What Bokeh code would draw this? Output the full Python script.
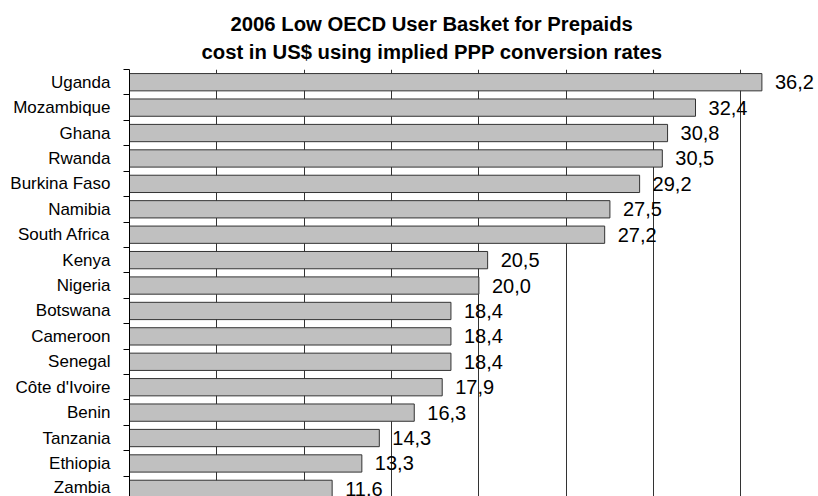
from bokeh.plotting import figure
from bokeh.models import Range1d, FixedTicker, Title, ColumnDataSource
from bokeh.embed import file_html
from bokeh.resources import INLINE

countries = ["Uganda", "Mozambique", "Ghana", "Rwanda", "Burkina Faso", "Namibia",
             "South Africa", "Kenya", "Nigeria", "Botswana", "Cameroon", "Senegal",
             "Côte d'Ivoire", "Benin", "Tanzania", "Ethiopia", "Zambia"]
values = [36.2, 32.4, 30.8, 30.5, 29.2, 27.5, 27.2, 20.5, 20.0, 18.4, 18.4, 18.4,
          17.9, 16.3, 14.3, 13.3, 11.6]
grid_ticks = [5, 10, 15, 20, 25, 30, 35]
title_line1 = "2006 Low OECD User Basket for Prepaids"
title_line2 = "cost in US$ using implied PPP conversion rates"

idx = list(range(len(countries)))
labels = [f"{v:.1f}".replace(".", ",") for v in values]
src = ColumnDataSource(dict(y=idx, v=values, lab=labels))

FONT = "Liberation Sans"

p = figure(width=818, height=496, output_backend="svg", toolbar_location=None,
           x_range=Range1d(0, 39.44), y_range=Range1d(16.3, -0.5),
           x_axis_location=None, min_border_left=129, min_border_right=0,
           min_border_top=69, min_border_bottom=0)
p.outline_line_color = None
p.background_fill_color = "white"
p.border_fill_color = "white"

t2 = Title(text=title_line2, align="left", offset=72, text_font=FONT,
           text_font_size="20.3px", text_font_style="bold", text_color="black", standoff=13)
t1 = Title(text=title_line1, align="left", offset=101, text_font=FONT,
           text_font_size="20.3px", text_font_style="bold", text_color="black", standoff=-5)
p.add_layout(t2, "above")
p.add_layout(t1, "above")

p.hbar(y="y", left=0, right="v", height=0.68, source=src,
       fill_color="#C0C0C0", line_color="#333333", line_width=1)
p.text(x="v", y="y", text="lab", source=src, x_offset=13,
       text_baseline="middle", text_align="left",
       text_font_size="20px", text_color="black", text_font={"value": FONT})

yax = p.yaxis[0]
yax.ticker = FixedTicker(ticks=idx, minor_ticks=[i - 0.5 for i in range(len(countries) + 1)])
yax.major_label_overrides = {i: c for i, c in zip(idx, countries)}
yax.major_tick_out = 0
yax.major_tick_in = 0
yax.minor_tick_in = 0
yax.minor_tick_out = 6
yax.minor_tick_line_color = "black"
yax.axis_line_color = "black"
yax.major_label_standoff = 13
yax.major_label_text_font = FONT
yax.major_label_text_font_size = "17px"
yax.major_label_text_color = "black"

p.ygrid.grid_line_color = None
p.xgrid.ticker = FixedTicker(ticks=grid_ticks)
p.xgrid.grid_line_color = "#333333"
p.xgrid.grid_line_width = 1

open("out.html", "w").write(file_html(p, INLINE))
